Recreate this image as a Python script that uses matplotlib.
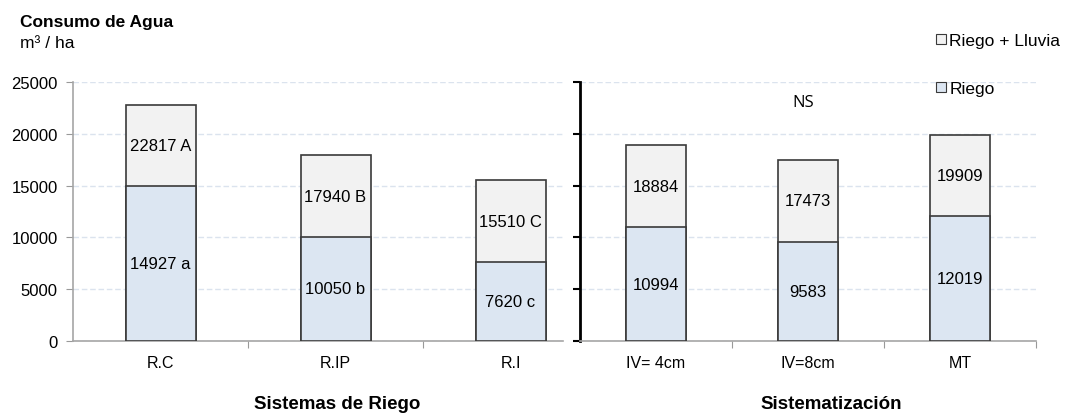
import matplotlib.pyplot as plt
from matplotlib.lines import Line2D

plt.rcParams['font.family'] = ['Liberation Sans', 'DejaVu Sans']

sist_cats = ['R.C', 'R.IP', 'R.I']
sist_total = [22817, 17940, 15510]
sist_riego = [14927, 10050, 7620]
sist_tot_lbl = ['22817 A', '17940 B', '15510 C']
sist_rie_lbl = ['14927 a', '10050 b', '7620 c']

sm_cats = ['IV= 4cm', 'IV=8cm', 'MT']
sm_total = [18884, 17473, 19909]
sm_riego = [10994, 9583, 12019]

yticks = [0, 5000, 10000, 15000, 20000, 25000]

W, H = 1065, 414
fig = plt.figure(figsize=(W / 100, H / 100), dpi=100)

c_total = '#f2f2f2'
c_riego = '#dce6f2'
edge = '#3a3a3a'
grid_c = '#dbe3ee'


def draw(ax, cats, total, riego, tot_lbl, rie_lbl, xmax):
    x = range(len(cats))
    ax.bar(x, total, width=0.4, color=c_total, edgecolor=edge, linewidth=1.2, zorder=3)
    ax.bar(x, riego, width=0.4, color=c_riego, edgecolor=edge, linewidth=1.2, zorder=4)
    for i in x:
        ax.text(i, (total[i] + riego[i]) / 2, tot_lbl[i], ha='center', va='center',
                fontsize=12, zorder=5)
        ax.text(i, riego[i] / 2, rie_lbl[i], ha='center', va='center',
                fontsize=12, zorder=5)
    ax.set_ylim(0, 25000)
    ax.set_xlim(-0.5, xmax)
    ax.set_yticks(yticks)
    ax.yaxis.grid(True, color=grid_c, linestyle=(0, (4, 2)), linewidth=1, zorder=0)
    ax.set_xticks([i + 0.5 for i in x if i + 0.5 <= xmax])
    ax.set_xticklabels([])
    ax.set_xticks(list(x), minor=True)
    ax.set_xticklabels(cats, minor=True, fontsize=11.5)
    ax.tick_params(axis='x', which='minor', length=0, pad=10)
    ax.tick_params(axis='x', which='major', length=5, color='#999999', direction='out')
    for s in ['top', 'right']:
        ax.spines[s].set_visible(False)
    ax.spines['bottom'].set_color('#a6a6a6')
    ax.spines['bottom'].set_linewidth(1.2)


bottom = (H - 342) / H
height = 259 / H

ax1 = fig.add_axes([73 / W, bottom, (563 - 73) / W, height])
draw(ax1, sist_cats, sist_total, sist_riego, sist_tot_lbl, sist_rie_lbl, 2.3)
ax1.spines['left'].set_color('#a6a6a6')
ax1.spines['left'].set_linewidth(1.2)
ax1.tick_params(axis='y', length=5, color='#999999', labelsize=12, pad=6)

ax2 = fig.add_axes([580 / W, bottom, (1036 - 580) / W, height])
sm_lbl_t = [str(v) for v in sm_total]
sm_lbl_r = [str(v) for v in sm_riego]
draw(ax2, sm_cats, sm_total, sm_riego, sm_lbl_t, sm_lbl_r, 2.5)
ax2.spines['left'].set_color('black')
ax2.spines['left'].set_linewidth(2)
ax2.tick_params(axis='y', length=5, width=1.5, color='black', labelleft=False)
ax2.text(0.97, 23100, 'NS', ha='center', va='center', fontsize=12, family='Open Sans')

fig.text(20 / W, 1 - 23 / H, 'Consumo de Agua', fontsize=12.5, fontweight='bold',
         va='center', ha='left')
fig.text(20 / W, 1 - 44 / H, 'm³ / ha', fontsize=12.5, va='center', ha='left')

fig.text(337 / W, 1 - 405 / H, 'Sistemas de Riego', fontsize=13.5, fontweight='bold',
         ha='center', va='center')
fig.text(831 / W, 1 - 405 / H, 'Sistematización', fontsize=13.5, fontweight='bold',
         ha='center', va='center')

h1 = Line2D([], [], marker='s', linestyle='none', markersize=7,
            markerfacecolor=c_total, markeredgecolor=edge, markeredgewidth=0.8)
h2 = Line2D([], [], marker='s', linestyle='none', markersize=7,
            markerfacecolor=c_riego, markeredgecolor=edge, markeredgewidth=0.8)
fig.legend([h1], ['Riego + Lluvia'], loc='center left', bbox_to_anchor=(926 / W, 1 - 41 / H),
           frameon=False, fontsize=12.5, handletextpad=0.15, borderpad=0, handlelength=0.7)
fig.legend([h2], ['Riego'], loc='center left', bbox_to_anchor=(926 / W, 1 - 89 / H),
           frameon=False, fontsize=12.5, handletextpad=0.15, borderpad=0, handlelength=0.7)

fig.savefig('out.png', dpi=100)
